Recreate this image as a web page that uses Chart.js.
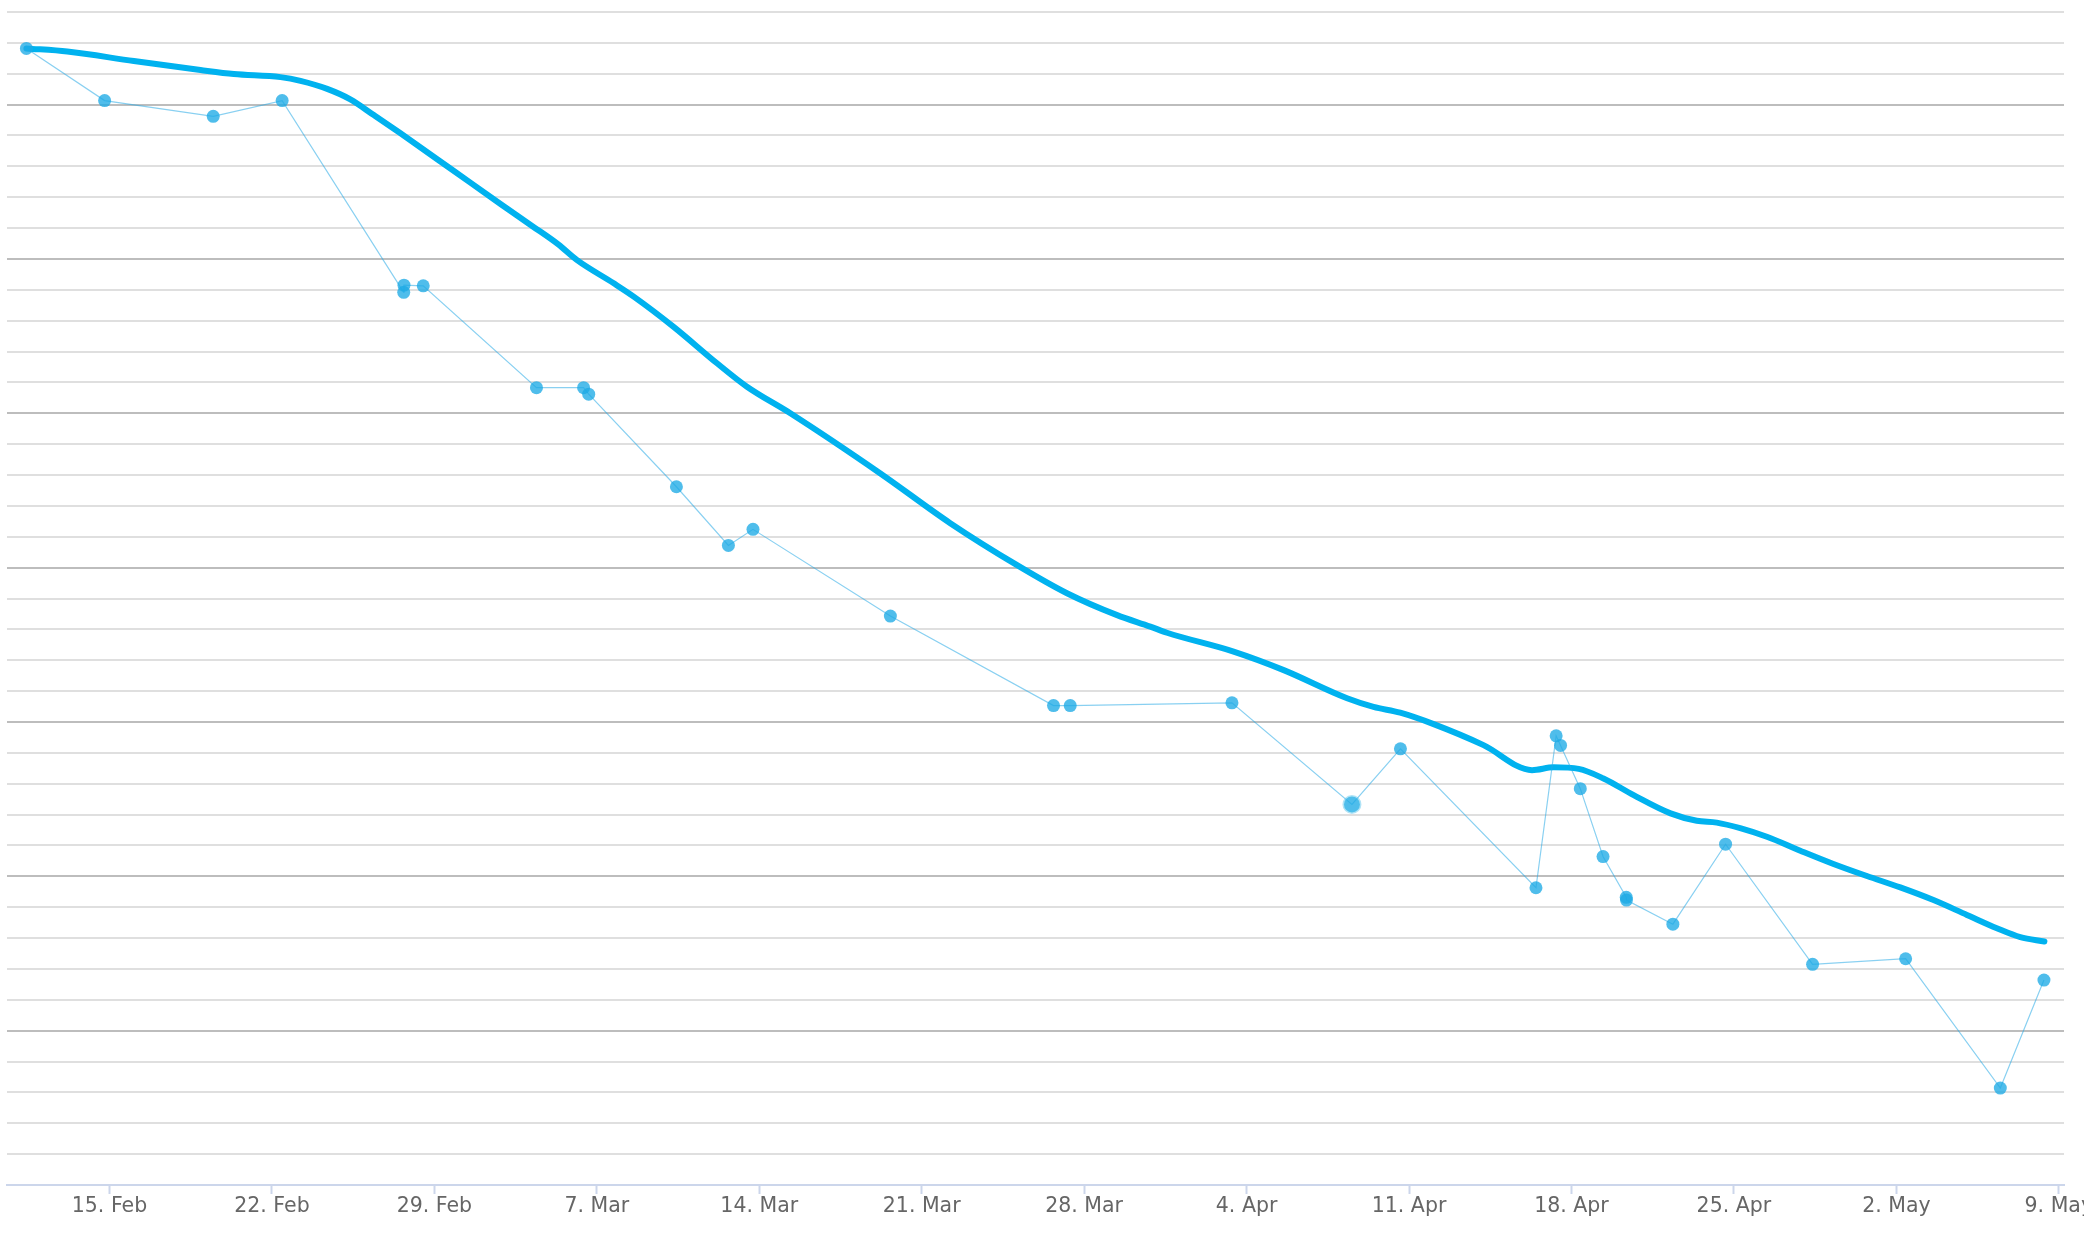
<!DOCTYPE html>
<html>
<head>
<meta charset="utf-8">
<script src="https://cdn.jsdelivr.net/npm/chart.js@4/dist/chart.umd.min.js"></script>
<style>
  html, body { margin: 0; padding: 0; background: #ffffff; }
  #wrap { width: 2084px; height: 1234px; }
</style>
</head>
<body>
<div id="wrap"><canvas id="c" width="2084" height="1234"></canvas></div>
<script>
// x values are days after 15 Feb 2016
const tickDays = [0, 7, 14, 21, 28, 35, 42, 49, 56, 63, 70, 77, 84];
const tickLabels = ["15. Feb", "22. Feb", "29. Feb", "7. Mar", "14. Mar", "21. Mar", "28. Mar",
                    "4. Apr", "11. Apr", "18. Apr", "25. Apr", "2. May", "9. May"];

// measurements (thin line with markers)
const measureDays = [-3.58, -0.21, 4.47, 7.44, 12.68, 12.69, 13.52, 18.40, 20.43, 20.65,
  24.43, 26.67, 27.73, 33.65, 40.68, 41.40, 48.37, 53.54, 55.63, 61.47,
  62.34, 62.53, 63.38, 64.36, 65.36, 65.37, 67.37, 69.64, 73.39, 77.40, 81.48, 83.36];
const measureValues = [36.82, 35.13, 34.62, 35.13, 28.92, 29.15, 29.13, 25.83, 25.83, 25.62,
  22.62, 20.72, 21.24, 18.43, 15.53, 15.53, 15.62, 12.33, 14.13, 9.63,
  14.55, 14.24, 12.84, 10.64, 9.32, 9.23, 8.45, 11.04, 7.15, 7.33, 3.14, 6.64];

// smoothed trend (thick line)
const trendDays = [-3.58, -1.82, 1.05, 3.92, 5.36, 7.37, 8.23, 9.38, 10.38, 11.39, 12.54, 14.69,
  16.85, 18.21, 19.34, 20.15, 21.73, 22.59, 24.31, 26.18, 27.47, 29.34, 33.22, 36.23, 39.11,
  41.26, 43.42, 44.85, 45.57, 48.44, 50.60, 53.33, 54.47, 55.62, 57.06, 59.21, 61.30, 62.23,
  63.31, 64.38, 65.68, 67.27, 68.40, 69.26, 70.27, 71.42, 72.86, 74.29, 75.73, 77.17, 78.60,
  80.04, 81.33, 82.34, 83.38];
const trendValues = [36.82, 36.72, 36.41, 36.12, 35.99, 35.89, 35.77, 35.51, 35.17, 34.66, 34.07, 32.93,
  31.78, 31.07, 30.47, 29.96, 29.21, 28.78, 27.80, 26.62, 25.86, 25.00, 23.05, 21.44, 20.08,
  19.17, 18.46, 18.09, 17.89, 17.28, 16.68, 15.77, 15.49, 15.30, 14.93, 14.25, 13.44, 13.53,
  13.48, 13.17, 12.63, 12.04, 11.80, 11.74, 11.56, 11.28, 10.83, 10.40, 10.01, 9.64, 9.23,
  8.75, 8.32, 8.03, 7.89];

const yMin = 0, yMax = 38;
const xMin = -4.438, xMax = 84.224;
const hoverIndex = 17;

const measurePts = measureDays.map((d, i) => ({ x: d, y: measureValues[i] }));
const trendPts = trendDays.map((d, i) => ({ x: d, y: trendValues[i] }));

new Chart(document.getElementById('c'), {
  type: 'line',
  data: {
    datasets: [
      {
        label: 'Measurements',
        data: measurePts,
        order: 0,
        borderColor: 'rgba(40,170,230,0.55)',
        borderWidth: 1.2,
        tension: 0,
        pointRadius: ctx => ctx.dataIndex === hoverIndex ? 8 : 6.5,
        pointBorderWidth: ctx => ctx.dataIndex === hoverIndex ? 3 : 0,
        pointBorderColor: 'rgba(79,192,236,0.45)',
        pointBackgroundColor: 'rgba(30,170,230,0.78)',
        fill: false
      },
      {
        label: 'Trend',
        data: trendPts,
        order: 1,
        borderColor: '#00b2ef',
        borderWidth: 6,
        cubicInterpolationMode: 'monotone',
        pointRadius: 0,
        borderCapStyle: 'round',
        borderJoinStyle: 'round',
        fill: false
      }
    ]
  },
  options: {
    responsive: false,
    animation: false,
    events: [],
    layout: { padding: { top: 12, left: 6, right: 20, bottom: 0 } },
    plugins: { legend: { display: false }, tooltip: { enabled: false } },
    scales: {
      x: {
        type: 'linear',
        min: xMin,
        max: xMax,
        afterBuildTicks: scale => { scale.ticks = tickDays.map(v => ({ value: v })); },
        afterFit: scale => { scale.height = 49; scale.paddingLeft = 0; scale.paddingRight = 0; },
        grid: {
          drawOnChartArea: false,
          drawTicks: true,
          tickLength: 9,
          tickWidth: 2,
          tickColor: '#ccd6eb'
        },
        border: { display: true, color: '#ccd6eb', width: 2 },
        ticks: {
          autoSkip: false,
          maxRotation: 0,
          padding: 0,
          color: '#666666',
          font: { family: 'DejaVu Sans', size: 20.5 },
          callback: v => { const i = tickDays.indexOf(v); return i >= 0 ? tickLabels[i] : ''; }
        }
      },
      y: {
        type: 'linear',
        min: yMin,
        max: yMax,
        afterBuildTicks: scale => {
          const t = [];
          for (let v = yMin; v <= yMax; v++) t.push({ value: v });
          scale.ticks = t;
        },
        afterFit: scale => { scale.width = 0; },
        border: { display: false },
        grid: {
          drawTicks: false,
          lineWidth: 2,
          color: ctx => {
            const v = ctx.tick ? ctx.tick.value : 0;
            if (v === 0) return '#ccd6eb';
            return v % 5 === 0 ? '#bdbdbd' : '#dfdfdf';
          }
        },
        ticks: { display: false }
      }
    }
  }
});
</script>
</body>
</html>
